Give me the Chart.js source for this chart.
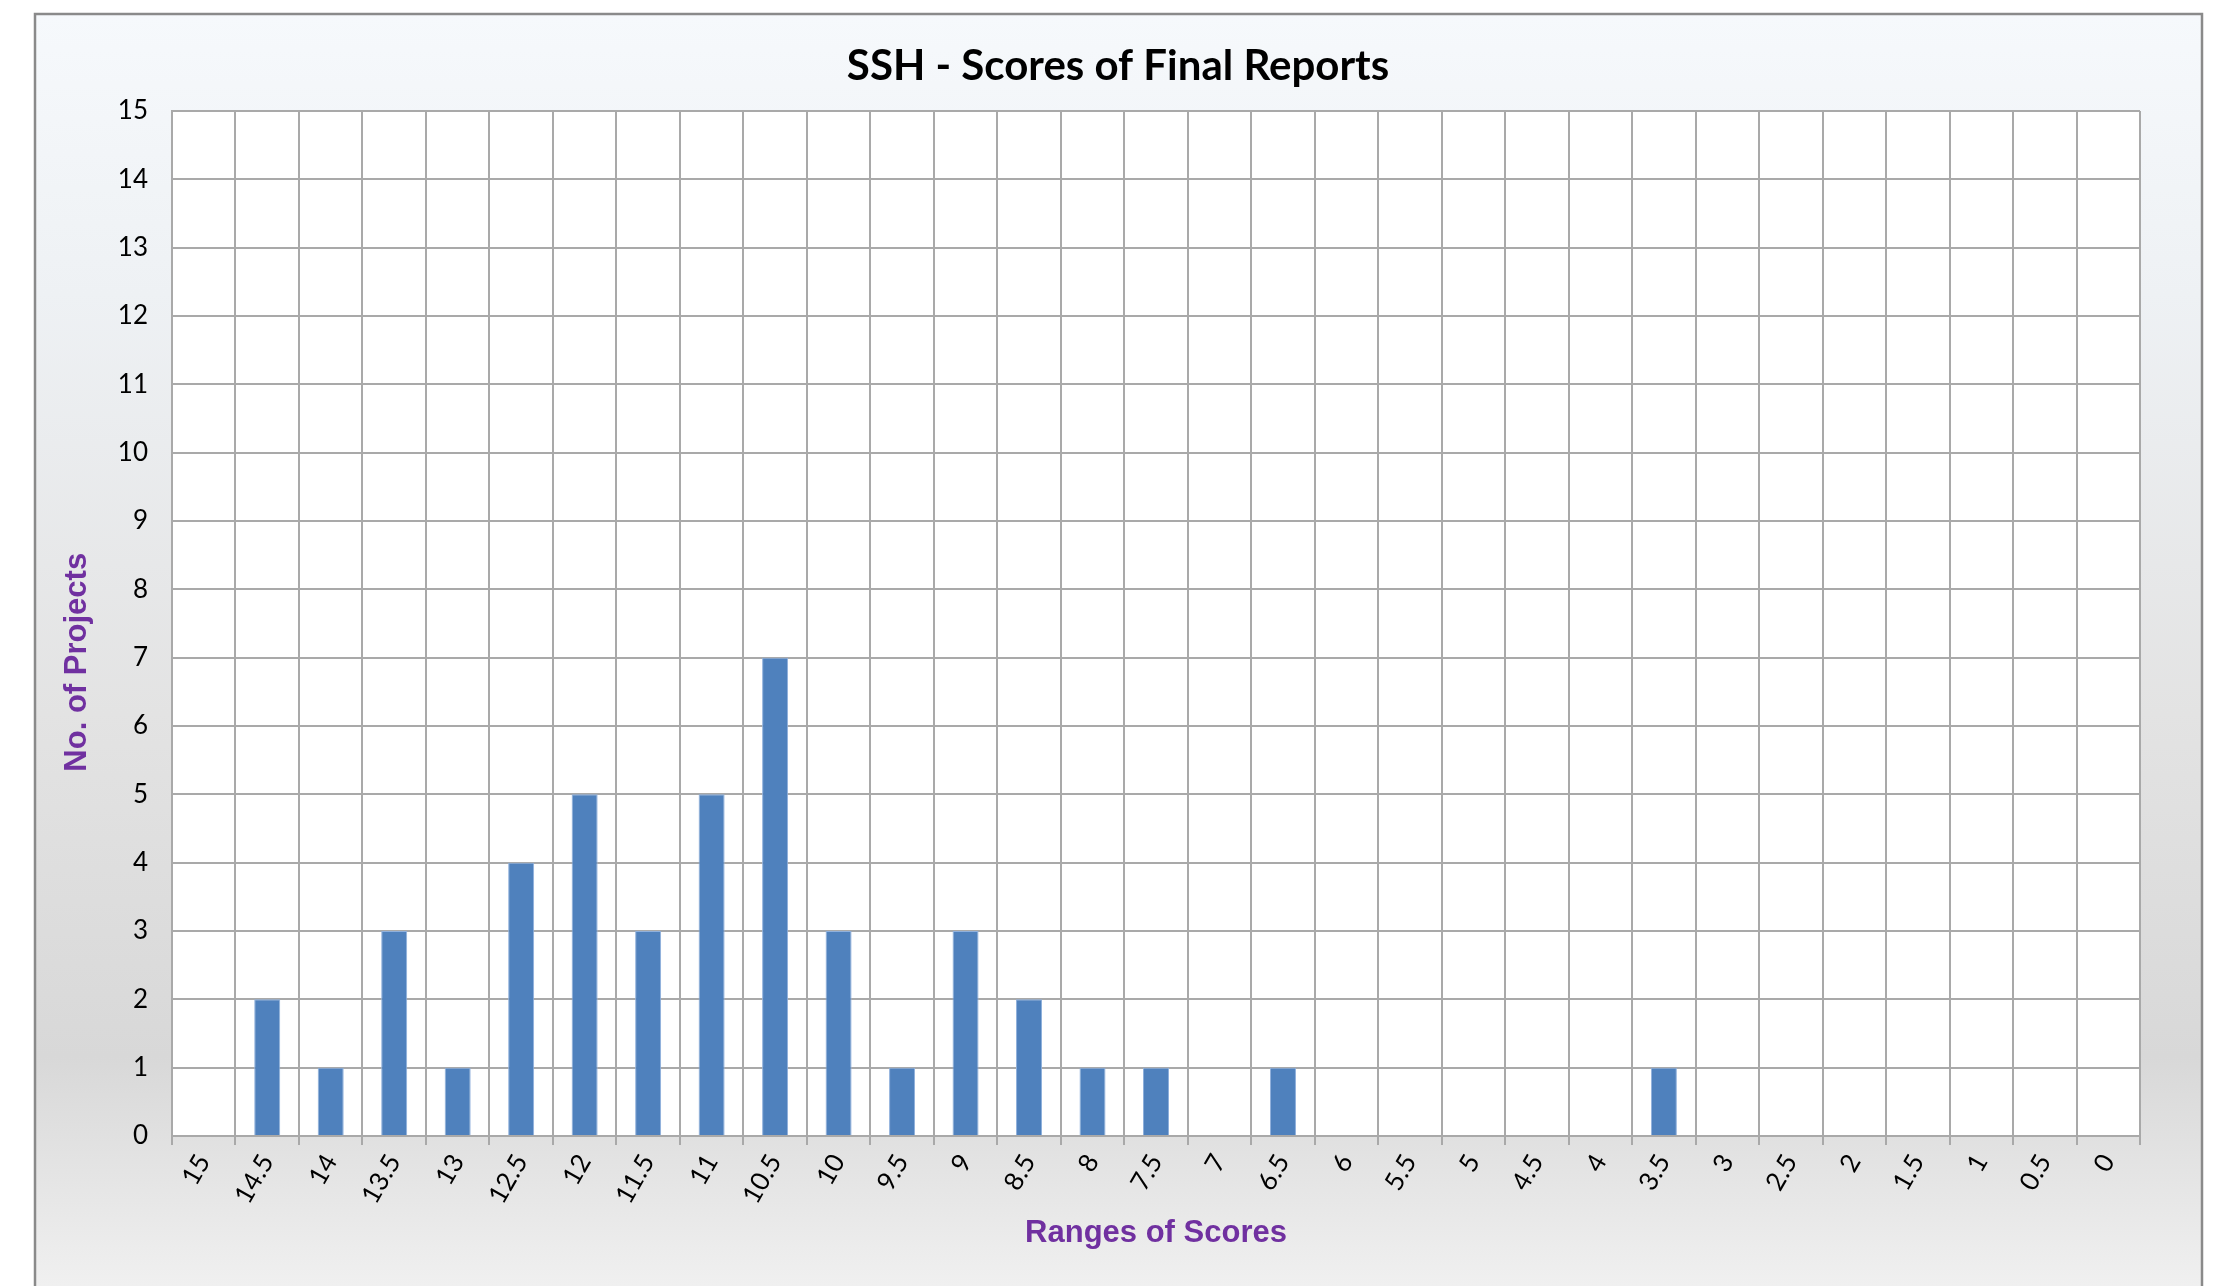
<!DOCTYPE html>
<html>
<head>
<meta charset="utf-8">
<title>SSH - Scores of Final Reports</title>
<script src="https://cdn.jsdelivr.net/npm/chart.js@4.4.1/dist/chart.umd.min.js"></script>
<style>
  html, body { margin: 0; padding: 0; background: #ffffff; }
  #c { display: block; }
</style>
</head>
<body>
<canvas id="c" width="2214" height="1286"></canvas>
<script>
// Score ranges (categories) from highest to lowest
const scoreRanges = ['15', '14.5', '14', '13.5', '13', '12.5', '12', '11.5', '11', '10.5',
  '10', '9.5', '9', '8.5', '8', '7.5', '7', '6.5', '6', '5.5',
  '5', '4.5', '4', '3.5', '3', '2.5', '2', '1.5', '1', '0.5', '0'];

// Number of projects falling in each score range
const projectCounts = [0, 2, 1, 3, 1, 4, 5, 3, 5, 7,
  3, 1, 3, 2, 1, 1, 0, 1, 0, 0,
  0, 0, 0, 1, 0, 0, 0, 0, 0, 0, 0];

// Value axis range
const countAxisMin = 0;
const countAxisMax = 15;
const countAxisStep = 1;

const chartTitle = 'SSH - Scores of Final Reports';
const xAxisTitle = 'Ranges of Scores';
const yAxisTitle = 'No. of Projects';

const GRID = '#a9a9a9';
const AXIS_TITLE_COLOR = '#7030a0';

// Framed panel with a soft vertical gradient, plus a white plot area
const panelBackground = {
  id: 'panelBackground',
  beforeDraw(chart) {
    const { ctx, width, height, chartArea } = chart;
    ctx.save();
    ctx.fillStyle = '#ffffff';
    ctx.fillRect(0, 0, width, height);

    const left = 35, top = 14, right = 2202;
    const g = ctx.createLinearGradient(0, top, 0, height);
    g.addColorStop(0.00, '#f6f9fc');
    g.addColorStop(0.22, '#eef1f4');
    g.addColorStop(0.55, '#e3e3e3');
    g.addColorStop(0.82, '#d8d8d8');
    g.addColorStop(1.00, '#f0f0f0');
    ctx.fillStyle = g;
    ctx.fillRect(left, top, right - left, height - top);

    ctx.strokeStyle = '#8a8a8a';
    ctx.lineWidth = 2.5;
    ctx.beginPath();
    ctx.moveTo(left, height + 5);
    ctx.lineTo(left, top);
    ctx.lineTo(right, top);
    ctx.lineTo(right, height + 5);
    ctx.stroke();

    ctx.fillStyle = '#ffffff';
    ctx.fillRect(chartArea.left, chartArea.top,
      chartArea.right - chartArea.left, chartArea.bottom - chartArea.top);
    ctx.restore();
  }
};

new Chart(document.getElementById('c'), {
  type: 'bar',
  data: {
    labels: scoreRanges,
    datasets: [{
      label: yAxisTitle,
      data: projectCounts,
      backgroundColor: '#4f81bd',
      borderColor: '#8fb0dc',
      borderWidth: 1,
      barPercentage: 0.41,
      categoryPercentage: 1.0
    }]
  },
  options: {
    responsive: false,
    devicePixelRatio: 1,
    animation: false,
    layout: {
      padding: { top: 14, left: 96, right: 74, bottom: 0 }
    },
    plugins: {
      legend: { display: false },
      tooltip: { enabled: false },
      title: {
        display: true,
        text: chartTitle,
        color: '#000000',
        font: { family: 'Lato', weight: 'bold', size: 42, lineHeight: 1.2 },
        padding: { top: 27, bottom: 19.6 }
      }
    },
    scales: {
      x: {
        grid: {
          offset: true,
          color: GRID,
          lineWidth: 2,
          drawTicks: true,
          tickLength: 9,
          tickColor: GRID
        },
        border: { display: true, color: GRID, width: 2 },
        ticks: {
          autoSkip: false,
          minRotation: 60,
          maxRotation: 60,
          padding: 4,
          color: '#000000',
          font: { family: 'Lato', size: 26 }
        },
        title: {
          display: true,
          text: xAxisTitle,
          color: AXIS_TITLE_COLOR,
          font: { family: "'Liberation Sans', Arial, sans-serif", weight: 'bold', size: 31, lineHeight: 1.2 },
          padding: { top: 0, bottom: 34 }
        },
        afterFit(scale) { scale.height = 150; }
      },
      y: {
        min: countAxisMin,
        max: countAxisMax,
        grid: {
          color: GRID,
          lineWidth: 2,
          drawTicks: false
        },
        border: { display: true, color: GRID, width: 2 },
        ticks: {
          stepSize: countAxisStep,
          padding: 24,
          color: '#000000',
          font: { family: 'Lato', size: 26 }
        },
        title: {
          display: true,
          text: yAxisTitle + '         ',
          color: AXIS_TITLE_COLOR,
          font: { family: "'Liberation Sans', Arial, sans-serif", weight: 'bold', size: 31, lineHeight: 1.2 },
          padding: { top: -37.6, bottom: 0 }
        },
        afterFit(scale) { scale.width = 76; }
      }
    }
  },
  plugins: [panelBackground]
});
</script>
</body>
</html>
